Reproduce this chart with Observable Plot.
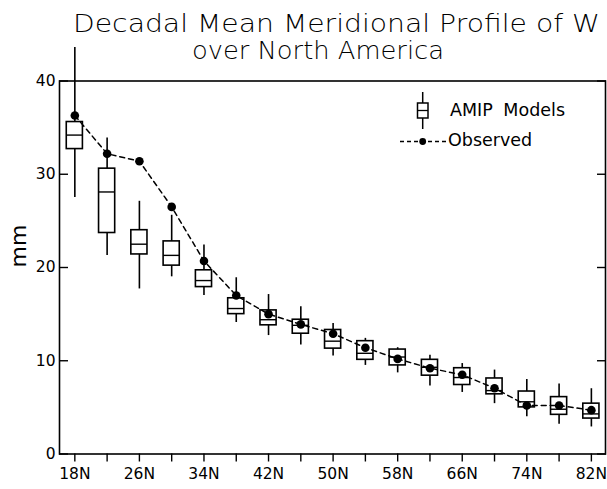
<!DOCTYPE html>
<html>
<head>
<meta charset="utf-8">
<script src="https://cdn.jsdelivr.net/npm/d3@7"></script>
<script src="https://cdn.jsdelivr.net/npm/@observablehq/plot@0.6"></script>
<style>
  html, body { margin: 0; padding: 0; background: white; }
  #wrap { position: relative; width: 607px; height: 489px; overflow: hidden; font-family: "DejaVu Sans", sans-serif; }
  #title { display: block; width: 607px; height: 66px; overflow: visible; }
  #legend { position: absolute; left: 395px; top: 88px; }
</style>
</head>
<body>
<div id="wrap">
  <svg id="title" width="607" height="66" font-family="DejaVu Sans">
    <text x="73" y="32" font-size="25" textLength="527" lengthAdjust="spacingAndGlyphs" font-weight="300" fill="black">Decadal Mean Meridional Profile of W</text>
    <text x="192" y="58.5" font-size="24" textLength="252" lengthAdjust="spacingAndGlyphs" font-weight="300" fill="black">over North America</text>
  </svg>
  <div id="chart"></div>
  <svg id="legend" width="190" height="66" font-family="DejaVu Sans">
    <line x1="27.7" x2="27.7" y1="4" y2="41" stroke="black" stroke-width="1.5"/>
    <rect x="22.5" y="15" width="10.5" height="15" fill="white" stroke="black" stroke-width="1.5"/>
    <line x1="22.5" x2="33" y1="22.5" y2="22.5" stroke="black" stroke-width="1.3"/>
    <text x="55" y="23" font-size="17.5" dominant-baseline="middle" word-spacing="5">AMIP Models</text>
    <line x1="5" x2="52" y1="53.5" y2="53.5" stroke="black" stroke-width="1.4" stroke-dasharray="4,3"/>
    <circle cx="27.7" cy="53.5" r="3.4" fill="black"/>
    <text x="53" y="53" font-size="17.5" dominant-baseline="middle">Observed</text>
  </svg>
</div>
<script>
// Latitudes (degrees N)
const lats = [18, 22, 26, 30, 34, 38, 42, 46, 50, 54, 58, 62, 66, 70, 74, 78, 82];
// AMIP model spread (mm)
const whiskerHigh = [43.6, 33.9, 27.1, 25.6, 22.4, 18.9, 17.1, 15.8, 14.0, 12.4, 11.4, 10.6, 9.7, 9.0, 8.0, 7.5, 7.0];
const boxTop      = [35.6, 30.6, 24.0, 22.8, 19.7, 16.7, 15.4, 14.4, 13.3, 12.1, 11.2, 10.1, 9.2, 8.1, 6.7, 6.1, 5.4];
const median      = [34.2, 28.1, 22.5, 21.3, 18.6, 15.6, 14.4, 13.8, 12.1, 10.8, 10.4, 9.3, 8.2, 6.8, 5.6, 4.8, 4.3];
const boxBottom   = [32.7, 23.7, 21.4, 20.2, 17.9, 15.0, 13.8, 12.9, 11.3, 10.1, 9.5, 8.4, 7.4, 6.4, 5.0, 4.2, 3.8];
const whiskerLow  = [27.5, 21.3, 17.7, 19.0, 17.0, 14.1, 12.7, 11.7, 10.5, 9.5, 8.7, 7.3, 6.6, 5.4, 4.0, 3.2, 2.9];
// Observed (mm)
const observed    = [36.3, 32.2, 31.4, 26.5, 20.7, 17.0, 15.0, 13.9, 12.9, 11.4, 10.2, 9.2, 8.5, 7.05, 5.2, 5.2, 4.7];
// Tick values
const yTicks = [0, 10, 20, 30, 40];
const xTicks = lats;
const xLabelStep = 8;

const boxHalf = 1; // half box width in degrees
const table = lats.map((lat, i) => ({
  lat, hi: whiskerHigh[i], q3: boxTop[i], med: median[i], q1: boxBottom[i], lo: whiskerLow[i], obs: observed[i]
}));

const chart = Plot.plot({
  width: 607,
  height: 423,
  marginTop: 14.5,
  marginBottom: 35.5,
  marginLeft: 59,
  marginRight: 2,
  x: {domain: [16.1, 83.75]},
  y: {domain: [0, 40]},
  style: {fontFamily: "DejaVu Sans", fontSize: "15.5px", overflow: "visible", background: "transparent", color: "black"},
  marks: [
    Plot.ruleX(table, {x: "lat", y1: "lo", y2: "hi", stroke: "black", strokeWidth: 1.6}),
    Plot.rect(table, {x1: d => d.lat - boxHalf, x2: d => d.lat + boxHalf, y1: "q1", y2: "q3", fill: "white", stroke: "black", strokeWidth: 1.6}),
    Plot.ruleY(table, {y: "med", x1: d => d.lat - boxHalf, x2: d => d.lat + boxHalf, stroke: "black", strokeWidth: 1.4}),
    Plot.line(table, {x: "lat", y: "obs", stroke: "black", strokeWidth: 1.5, strokeDasharray: "5,4"}),
    Plot.dot(table, {x: "lat", y: "obs", r: 4.3, fill: "black", stroke: "none"}),
    Plot.frame({stroke: "black", strokeWidth: 1.6}),
    Plot.axisY(yTicks, {anchor: "left", tickSize: 0, tickPadding: 4, label: null, fontSize: 15.5}),
    Plot.axisY(yTicks, {anchor: "left", tickSize: -9, tickFormat: () => "", label: null, strokeWidth: 1.4}),
    Plot.axisY(yTicks, {anchor: "right", tickSize: -9, tickFormat: () => "", label: null, strokeWidth: 1.4}),
    Plot.axisX(xTicks, {anchor: "bottom", tickSize: 8, tickPadding: 6, label: null, strokeWidth: 1.4, fontSize: 15.5,
      tickFormat: d => ((d - lats[0]) % xLabelStep === 0 ? d + "N" : "")}),
    Plot.text(["mm"], {frameAnchor: "left", dx: -41, rotate: -90, fontSize: 22, text: d => d})
  ]
});
document.getElementById("chart").appendChild(chart);
</script>
</body>
</html>
